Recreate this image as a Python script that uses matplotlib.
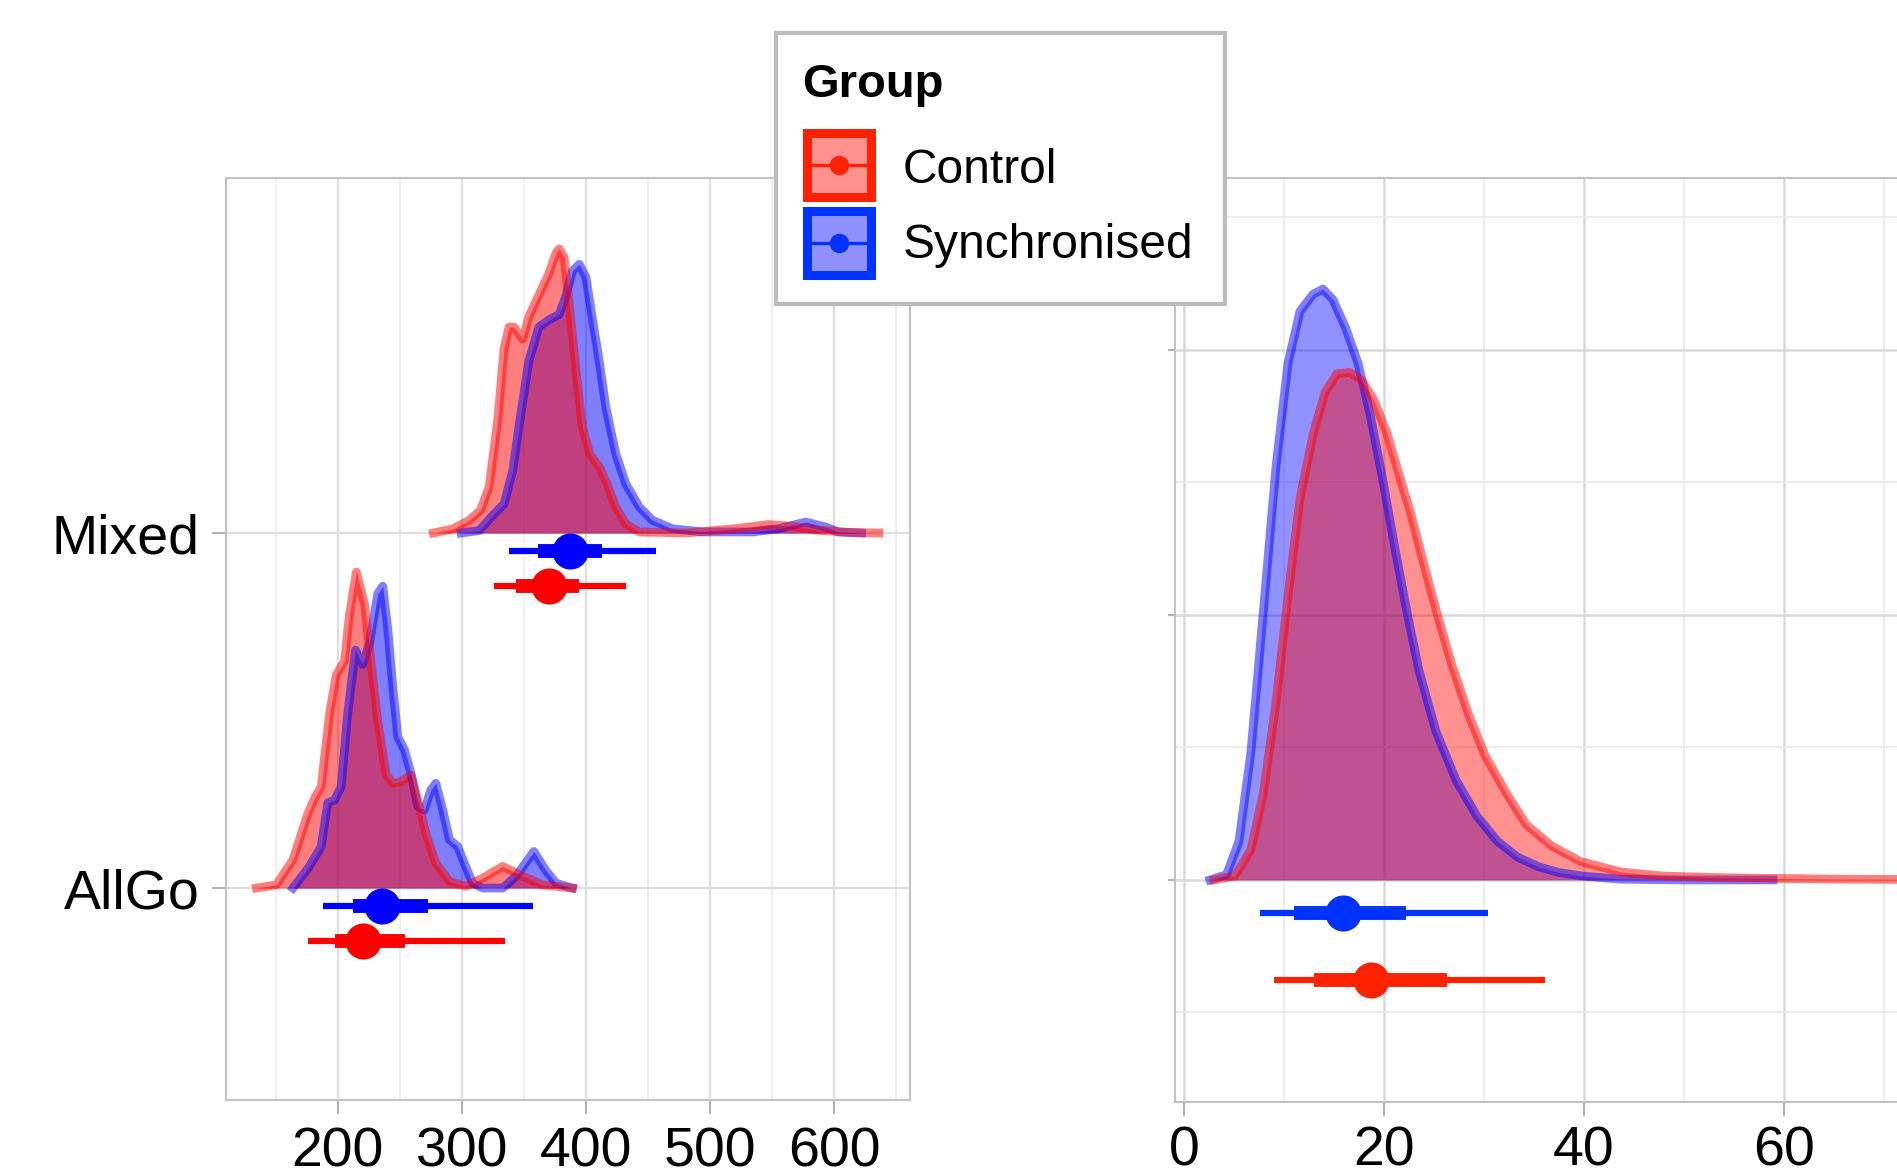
import matplotlib
matplotlib.use('Agg')
import matplotlib.pyplot as plt
from matplotlib.patches import Rectangle
from matplotlib.lines import Line2D

plt.rcParams['font.family'] = ['Liberation Sans', 'DejaVu Sans']

# ---- data ----
groups = ['Control', 'Synchronised']
conditions = ['AllGo', 'Mixed']

# left panel densities (x, scaled height)
mix_ctrl_x = [277, 293, 306, 315, 322, 329, 334, 338, 342, 349, 354, 362, 370, 376, 378.5,
              382.5, 386.5, 392, 397, 403, 411, 417, 424, 432, 443, 480, 520, 547, 566, 587, 610, 636]
mix_ctrl_h = [0, 0.012, 0.036, 0.064, 0.13, 0.32, 0.52, 0.58, 0.58, 0.546, 0.61, 0.67, 0.73, 0.79, 0.80,
              0.775, 0.644, 0.457, 0.30, 0.223, 0.185, 0.139, 0.073, 0.026, 0.003, 0, 0.012, 0.024, 0.019,
              0.008, 0.002, 0]
mix_sync_x = [299.5, 314, 323.6, 334, 341, 346, 354, 362, 370, 378.5, 384, 389, 394.6, 400, 405, 410.6,
              416, 424, 432, 443, 453.5, 469.6, 494, 534, 555, 577, 593, 603.5, 622]
mix_sync_h = [0, 0.007, 0.045, 0.082, 0.176, 0.30, 0.485, 0.58, 0.60, 0.616, 0.67, 0.738, 0.757, 0.72,
              0.607, 0.485, 0.354, 0.223, 0.139, 0.073, 0.036, 0.012, 0.003, 0.003, 0.012, 0.031, 0.017,
              0.003, 0]
ag_ctrl_x = [134.5, 150.5, 164, 176, 181.4, 186.7, 193.4, 198.8, 205.5, 209.5, 215, 221.6, 227, 232.3,
             239, 244.4, 251, 259, 264.5, 271, 279, 290, 303, 316.8, 333, 349, 365, 389]
ag_ctrl_h = [0, 0.009, 0.08, 0.21, 0.253, 0.286, 0.49, 0.60, 0.64, 0.77, 0.89, 0.80, 0.63, 0.47, 0.32,
             0.295, 0.30, 0.318, 0.248, 0.154, 0.07, 0.019, 0.005, 0.028, 0.061, 0.033, 0.009, 0]
ag_sync_x = [164, 177, 186.7, 192, 197.5, 202.8, 208, 214.3, 220, 225.6, 232.3, 236.3, 240.3, 244.4,
             248.4, 253.8, 259, 264.5, 269.8, 275, 279, 284.6, 290, 296.6, 302, 308.6, 316.8, 333, 343.6,
             358, 367.6, 375.7, 389]
ag_sync_h = [0, 0.06, 0.117, 0.24, 0.248, 0.286, 0.49, 0.67, 0.63, 0.69, 0.83, 0.85, 0.73, 0.566, 0.426,
             0.389, 0.323, 0.23, 0.22, 0.276, 0.295, 0.22, 0.136, 0.117, 0.07, 0.014, 0, 0, 0.033, 0.103,
             0.05, 0.014, 0]

# right panel densities
r_sync_x = [2.6, 4.25, 5.5, 6.7, 7.95, 9.2, 10.4, 11.6, 12.9, 13.9, 14.9, 16.2, 17.4, 18.6, 19.85, 21.1,
            22.3, 23.5, 25.2, 27.2, 29.3, 31.35, 33.4, 35.45, 37.5, 40, 43.7, 49.8, 58.9]
r_sync_h = [0, 0.02, 0.146, 0.485, 1.02, 1.56, 1.95, 2.146, 2.21, 2.23, 2.19, 2.08, 1.95, 1.76, 1.515,
            1.25, 1.01, 0.79, 0.56, 0.377, 0.24, 0.146, 0.085, 0.05, 0.028, 0.014, 0.003, 0, 0]
r_ctrl_x = [3.0, 5.1, 6.7, 7.95, 9.2, 10.4, 11.6, 12.9, 14.1, 15.3, 16.6, 17.8, 19.0, 20.3, 21.5, 22.7,
            24.0, 25.2, 26.8, 28.5, 30.1, 32.2, 34.2, 36.7, 39.6, 43.7, 47.8, 54, 65, 85]
r_ctrl_h = [0, 0.015, 0.115, 0.33, 0.67, 1.07, 1.44, 1.68, 1.84, 1.91, 1.915, 1.885, 1.81, 1.685, 1.53,
            1.38, 1.19, 1.02, 0.81, 0.62, 0.47, 0.33, 0.21, 0.13, 0.07, 0.03, 0.015, 0.008, 0.003, 0]

# point intervals: median, 66% interval, 95% interval
mix_ctrl_int = [370, 344, 394, 326, 432]
mix_sync_int = [387, 361, 413, 338, 456]
ag_ctrl_int = [220, 198, 254, 176, 335]
ag_sync_int = [236, 212, 273, 188, 357]
r_ctrl_int = [18.7, 13.0, 26.3, 9.0, 36.1]
r_sync_int = [15.9, 10.95, 22.2, 7.6, 30.4]

# ---- figure ----
W, H = 1897, 1176
fig = plt.figure(figsize=(W / 100, H / 100), dpi=100)


def box(l, t, r, b):
    return [l / W, 1 - b / H, (r - l) / W, (b - t) / H]


ax1 = fig.add_axes(box(226, 178, 910, 1100))
ax2 = fig.add_axes(box(1175, 178, 2100, 1102))

RED, BLUE = '#ff0000', '#0000ff'
RED2, BLUE2 = '#ff2200', '#0033ff'


def density(ax, x, h, base, color, alpha=0.5):
    top = [base + v for v in h]
    ax.fill_between(x, base, top, color=color, alpha=alpha, lw=0, zorder=2)
    ax.plot(x, top, color=color, alpha=0.5, lw=6.3, solid_joinstyle='round', zorder=3)


def interval(ax, vals, y, color):
    med, lo66, hi66, lo95, hi95 = vals
    ax.plot([lo95, hi95], [y, y], color=color, lw=4.5, solid_capstyle='butt', zorder=4)
    ax.plot([lo66, hi66], [y, y], color=color, lw=10, solid_capstyle='butt', zorder=5)
    ax.plot([med], [y], 'o', color=color, ms=26, mew=0, zorder=6)


def style(ax):
    ax.set_axisbelow(True)
    for s in ax.spines.values():
        s.set_color('#c4c4c4')
        s.set_linewidth(1.5)
    ax.tick_params(which='major', length=10, width=1.5, color='#b3b3b3', labelsize=40, pad=9)
    ax.tick_params(which='minor', length=0)


# left panel
density(ax1, mix_sync_x, mix_sync_h, 2, BLUE)
density(ax1, mix_ctrl_x, mix_ctrl_h, 2, RED)
density(ax1, ag_sync_x, ag_sync_h, 1, BLUE)
density(ax1, ag_ctrl_x, ag_ctrl_h, 1, RED)
interval(ax1, mix_sync_int, 1.95, BLUE)
interval(ax1, mix_ctrl_int, 1.85, RED)
interval(ax1, ag_sync_int, 0.95, BLUE)
interval(ax1, ag_ctrl_int, 0.85, RED)

ax1.set_xlim(110, 661)
ax1.set_ylim(0.403, 3.0)
ax1.set_xticks([200, 300, 400, 500, 600])
ax1.set_xticks([150, 250, 350, 450, 550, 650], minor=True)
ax1.set_yticks([1, 2])
ax1.set_yticklabels(conditions)
style(ax1)
ax1.grid(axis='x', which='major', color='#dedede', lw=1.6)
ax1.grid(axis='x', which='minor', color='#ececec', lw=1.1)
ax1.grid(axis='y', which='major', color='#dedede', lw=1.6)

# right panel (cut off at the figure's right edge, as in the original)
density(ax2, r_sync_x, r_sync_h, 0, BLUE, alpha=0.43)
density(ax2, r_ctrl_x, r_ctrl_h, 0, RED, alpha=0.43)
interval(ax2, r_sync_int, -0.125, BLUE2)
interval(ax2, r_ctrl_int, -0.377, RED2)

ax2.set_xlim(-0.9, 91.6)
ax2.set_ylim(-0.838, 2.649)
ax2.set_xticks([0, 20, 40, 60])
ax2.set_xticks([10, 30, 50, 70], minor=True)
ax2.set_yticks([0, 1, 2])
ax2.set_yticks([-0.5, 0.5, 1.5, 2.5], minor=True)
ax2.set_yticklabels([])
style(ax2)
ax2.tick_params(axis='y', which='major', length=5)
ax2.tick_params(axis='x', which='major', pad=7)
ax2.grid(which='major', color='#dadada', lw=1.8)
ax2.grid(which='minor', color='#ebebeb', lw=1.2)

# legend drawn in figure pixels
def fx(x):
    return x / W


def fy(y):
    return 1 - y / H


fig.add_artist(Rectangle((fx(776), fy(304)), fx(1225) - fx(776), fy(33) - fy(304),
                         transform=fig.transFigure, facecolor='white', edgecolor='#bdbdbd',
                         lw=3, zorder=10))
fig.text(fx(802), fy(97), 'Group', fontsize=34, fontweight='bold', va='baseline', ha='left', zorder=11)

keys = [(groups[0], RED2, '#ff9090', 128, 183), (groups[1], BLUE2, '#9090ff', 206, 258)]
for name, edge, fill, top, base in keys:
    fig.add_artist(Rectangle((fx(806.5), fy(top + 69)), fx(64), fy(0) - fy(64),
                             transform=fig.transFigure, facecolor=fill, edgecolor=edge,
                             lw=6.5, zorder=11))
    cy = top + 37
    fig.add_artist(Line2D([fx(806), fx(871)], [fy(cy), fy(cy)], transform=fig.transFigure,
                          color=edge, lw=2.4, zorder=12))
    fig.add_artist(Line2D([fx(838.5)], [fy(cy)], transform=fig.transFigure, marker='o',
                          color=edge, ms=14, mew=0, zorder=12))
    fig.text(fx(903), fy(base), name, fontsize=34.5, va='baseline', ha='left', zorder=11)

fig.savefig('out.png', dpi=100)
